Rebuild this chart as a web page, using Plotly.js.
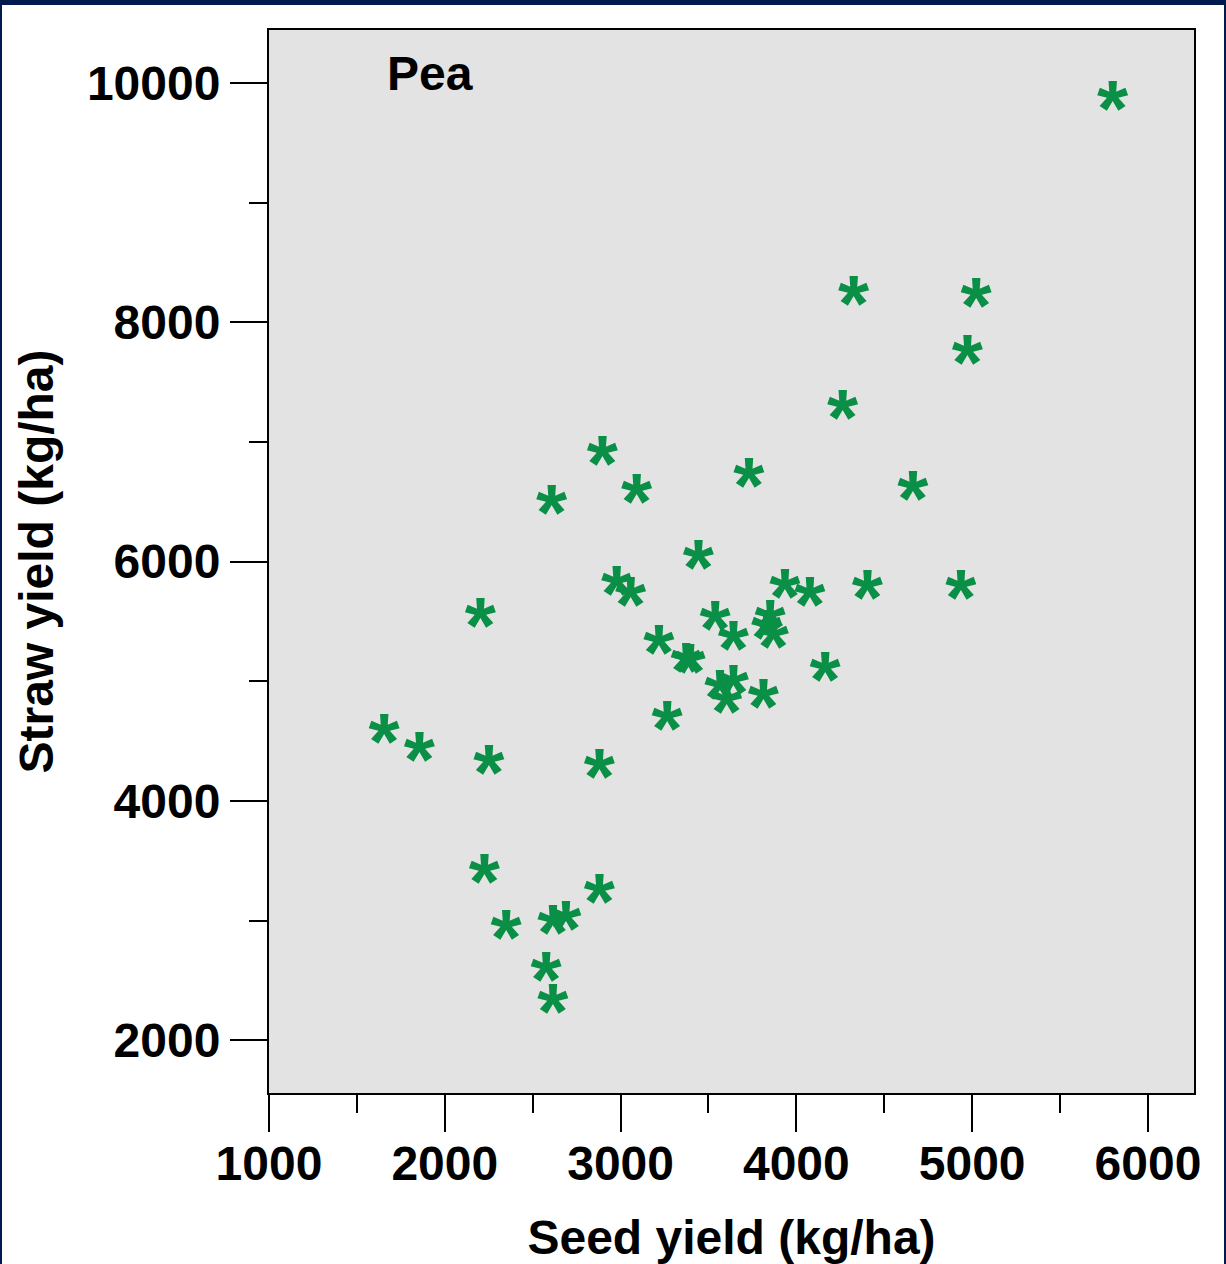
<!DOCTYPE html>
<html>
<head>
<meta charset="utf-8">
<script src="https://cdn.plot.ly/plotly-3.0.1.min.js"></script>
<style>
  html, body { margin: 0; padding: 0; background: #001a4e; overflow: hidden; }
  #chart { position: absolute; left: 2px; top: 5px; width: 1222px; height: 1259px; background: #ffffff; }
</style>
</head>
<body>
<div id="chart"></div>
<script>
// Pea: seed yield vs straw yield (kg/ha)
const seedYield = [
  5799, 4326, 5022, 4972, 4263, 2896, 3091, 2608, 3730, 4663,
  3442, 2977, 3057, 3935, 4077, 4404, 4936, 2202, 3537, 3218,
  3641, 3850, 3831, 3869, 3372, 3395, 4163, 3565, 3641, 3603,
  3812, 3265, 1654, 1855, 2250, 2879, 2225, 2348, 2614, 2689,
  2879, 2576, 2614
];
const strawYield = [
  9894, 8261, 8242, 7773, 7308, 6926, 6611, 6513, 6739, 6630,
  6054, 5839, 5747, 5817, 5747, 5803, 5803, 5571, 5543, 5349,
  5376, 5552, 5468, 5399, 5192, 5184, 5120, 4967, 5008, 4855,
  4897, 4710, 4599, 4451, 4345, 4312, 3434, 2968, 3002, 3043,
  3267, 2617, 2344
];
const cropName = "Pea";
const xTitle = "Seed yield (kg/ha)";
const yTitle = "Straw yield (kg/ha)";

const X_RANGE = [1000, 6262];
const Y_RANGE = [1560, 10443];

const FONT = "Liberation Sans, Arial, Helvetica, sans-serif";
const GREEN = "#0a8f47";
const STAR_SIZE = 80;

const margin = { l: 267, r: 30, t: 25, b: 171 };
const plotHeight = 1259 - margin.t - margin.b;

// The "*" glyph sits high in its line box; a companion y axis, offset by
// the glyph's lift, keeps each star centred on its value.
const glyphLiftPx = 0.25 * STAR_SIZE;
const liftUnits = glyphLiftPx * (Y_RANGE[1] - Y_RANGE[0]) / plotHeight;

// empty trace so the main x/y subplot (and its axes) is created
const baseAxes = {
  type: "scatter",
  mode: "markers",
  x: [],
  y: [],
  hoverinfo: "skip",
  showlegend: false
};

const stars = {
  type: "scatter",
  mode: "text",
  x: seedYield,
  y: strawYield,
  yaxis: "y2",
  text: seedYield.map(() => "*"),
  textposition: "middle center",
  textfont: { family: FONT, size: STAR_SIZE, color: GREEN, weight: 700 },
  hoverinfo: "x+y",
  showlegend: false
};

const tickFont = { family: FONT, size: 48, color: "#000000", weight: 700 };
const titleFont = { family: FONT, size: 48, color: "#000000", weight: 700 };

const layout = {
  width: 1222,
  height: 1259,
  margin: margin,
  paper_bgcolor: "#ffffff",
  plot_bgcolor: "#e3e3e3",
  showlegend: false,
  xaxis: {
    range: X_RANGE,
    tick0: 0,
    dtick: 1000,
    tickformat: "d",
    ticks: "outside",
    ticklen: 37,
    tickwidth: 2,
    tickcolor: "#000000",
    ticklabelstandoff: -10,
    minor: { dtick: 500, ticks: "outside", ticklen: 18, tickwidth: 2, tickcolor: "#000000", showgrid: false },
    showgrid: false,
    zeroline: false,
    showline: true,
    mirror: true,
    linecolor: "#000000",
    linewidth: 2,
    tickfont: tickFont,
    title: { text: xTitle, font: titleFont, standoff: 38 },
    automargin: false
  },
  yaxis: {
    range: Y_RANGE,
    tick0: 0,
    dtick: 2000,
    tickformat: "d",
    ticks: "outside",
    ticklen: 37,
    tickwidth: 2,
    tickcolor: "#000000",
    minor: { dtick: 1000, ticks: "outside", ticklen: 18, tickwidth: 2, tickcolor: "#000000", showgrid: false },
    showgrid: false,
    zeroline: false,
    showline: true,
    mirror: true,
    linecolor: "#000000",
    linewidth: 2,
    tickfont: tickFont,
    title: { text: yTitle, font: titleFont, standoff: 18 },
    automargin: false
  },
  yaxis2: {
    overlaying: "y",
    range: [Y_RANGE[0] + liftUnits, Y_RANGE[1] + liftUnits],
    visible: false,
    fixedrange: true
  },
  annotations: [{
    text: cropName,
    xref: "paper", yref: "paper",
    x: (383 - 267) / 925, y: 1 - 44 / plotHeight,
    xanchor: "left", yanchor: "middle",
    showarrow: false,
    font: { family: FONT, size: 48, color: "#000000", weight: 700 }
  }]
};

Plotly.newPlot("chart", [baseAxes, stars], layout, { displayModeBar: false, staticPlot: true });
</script>
</body>
</html>
